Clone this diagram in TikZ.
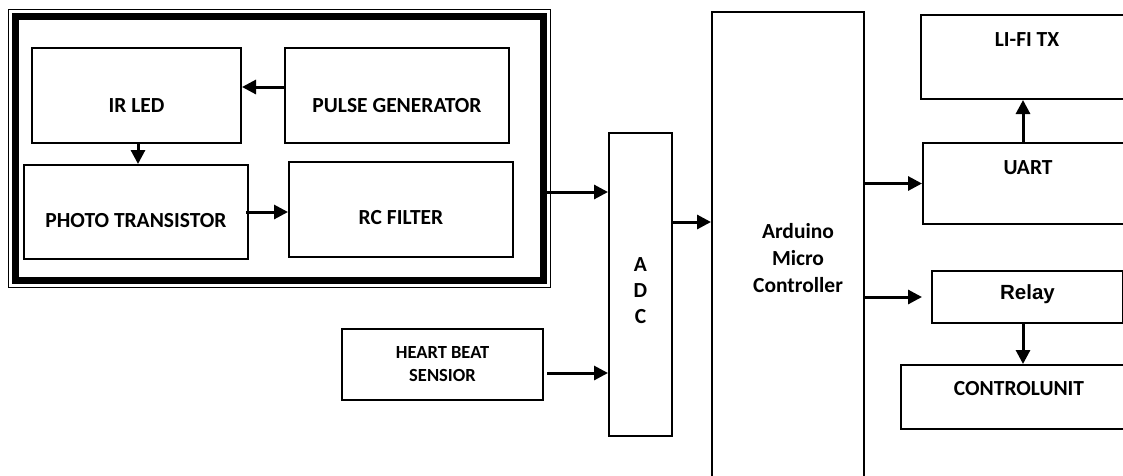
\documentclass[tikz,border=0pt]{standalone}
\usepackage{fontspec}
\setmainfont{Carlito}
\newfontfamily\relayfont{Liberation Sans}
\usetikzlibrary{arrows.meta,calc}

\begin{document}
\begin{tikzpicture}[x=1pt, y=-1pt, >={Triangle[length=14pt,width=14pt]},
    font=\fontsize{21.5}{27}\selectfont\bfseries,
    box/.style={draw, line width=2pt, inner sep=0pt},
    frame/.style={draw, line width=7pt, inner sep=0pt},
    arr/.style={->, line width=3pt}]
  \useasboundingbox (0,0) rectangle (1123,475);
  \clip (0,0) rectangle (1123,475);
  % sensing block
  \node[frame, minimum width=528.5pt, minimum height=263.5pt] (sensor) at (279.25,148.25) {};
  \draw[line width=1pt] ([xshift=-3.5pt,yshift=3.5pt]sensor.north west) rectangle ([xshift=3.5pt,yshift=-3.5pt]sensor.south east);
  \node[box, minimum width=209pt, minimum height=95pt, label={[yshift=-10.5pt]center:IR LED}] (irled) at (136.5,95.5) {};
  \node[box, minimum width=224pt, minimum height=95pt, label={[yshift=-10.5pt]center:PULSE GENERATOR}] (pulse) at (397,95.5) {};
  \node[box, minimum width=224pt, minimum height=94pt, label={[yshift=-9pt]center:PHOTO TRANSISTOR}] (photo) at (136,212) {};
  \node[box, minimum width=224pt, minimum height=95pt, label={[yshift=-8.5pt]center:RC FILTER}] (rcf) at (401,209.5) {};
  % inputs and controller
  \node[box, line width=2.7pt, minimum width=201pt, minimum height=71pt, label={[align=center, font=\fontsize{18.5}{23}\selectfont\bfseries]center:HEART BEAT\\SENSIOR}] (hbs) at (442.5,364.5) {};
  \node[box, minimum width=63pt, minimum height=303pt, label={[yshift=-6.5pt, align=center, font=\fontsize{21.5}{26}\selectfont\bfseries]center:A\\D\\C}] (adc) at (640.5,284.5) {};
  \node[box, minimum width=152pt, minimum height=473pt, label={[xshift=10pt, yshift=-9.5pt, align=center]center:Arduino\\Micro\\Controller}] (mcu) at (788,248.5) {};
  % outputs
  \node[box, minimum width=212pt, minimum height=84pt, label={[yshift=17pt]center:LI-FI TX}] (lifi) at (1027,57) {};
  \node[box, minimum width=210pt, minimum height=81pt, label={[yshift=15.5pt]center:UART}] (uart) at (1028,183.5) {};
  \node[box, minimum width=191pt, minimum height=52pt, label={[yshift=4.5pt, text depth=0pt, font=\relayfont\fontsize{20.5}{24}\selectfont\bfseries]center:Relay}] (relay) at (1027.5,297) {};
  \node[box, minimum width=236pt, minimum height=64pt, label={[yshift=8pt]center:CONTROLUNIT}] (ctrl) at (1019,397) {};
  % connections
  \draw[arr] ([yshift=8.5pt]pulse.west) -- ([yshift=8.5pt]irled.east);
  \draw[arr] ([xshift=1.5pt]irled.south) -- ([xshift=2pt]photo.north);
  \draw[arr] ([xshift=-3pt]photo.east) -- (rcf.west |- photo.east);
  \draw[arr] ([yshift=-43.75pt]sensor.east) coordinate (out) -- (out -| adc.west);
  \draw[arr] ([xshift=3pt,yshift=-8.5pt]hbs.east) coordinate (hb) -- (hb -| adc.west);
  \draw[arr] ([yshift=62.5pt]adc.east) coordinate (ad) -- (ad -| mcu.west);
  \draw[arr] (mcu.east |- uart.west) -- (uart.west);
  \draw[arr] ([xshift=-5pt]uart.north) coordinate (up) -- (up |- lifi.south);
  \draw[arr, shorten >=9pt] (mcu.east |- relay.west) -- (relay.west);
  \draw[arr] ([xshift=-4.5pt]relay.south) coordinate (dn) -- (dn |- ctrl.north);
\end{tikzpicture}
\end{document}
